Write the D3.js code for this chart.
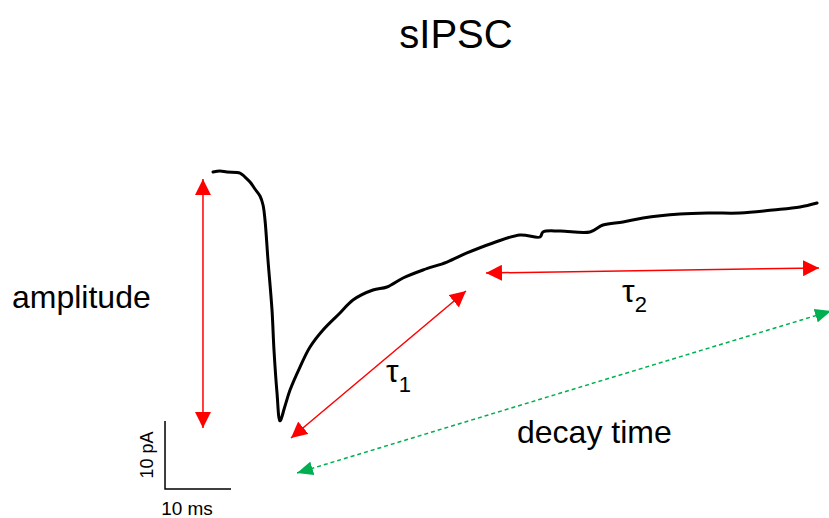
<!DOCTYPE html>
<html>
<head>
<meta charset="utf-8">
<script src="https://cdn.jsdelivr.net/npm/d3@7/dist/d3.min.js"></script>
<style>
  html, body { margin: 0; padding: 0; background: #fff; }
  svg { display: block; font-family: "Liberation Sans", Arial, sans-serif; }
</style>
</head>
<body>
<svg id="chart" width="829" height="518"></svg>
<script>
// Averaged sIPSC trace: time (ms) from onset, current (pA) relative to baseline
const timeMs = [0, 1.06, 2.12, 4.09, 4.85, 5.61, 6.36, 7.12, 7.58, 7.88, 8.33, 8.94, 9.24, 9.70, 10.15,
  10.91, 11.67, 13.18, 14.70, 16.67, 19.24, 21.21, 24.24, 26.36, 28.79, 31.82, 35.45, 38.48, 42.42,
  46.52, 49.55, 50.0, 52.58, 57.12, 59.09, 62.12, 65.15, 70.76, 75.3, 79.85, 84.85, 88.94, 91.52];
const currentPA = [0, 0.15, 0, -0.15, -0.74, -1.47, -2.5, -3.53, -4.85, -7.06, -12.94, -20.29, -26.18, -32.5, -36.6,
  -34.4, -32.06, -28.68, -25.74, -23.24, -20.74, -18.82, -17.35, -16.91, -15.59, -14.41, -13.24, -11.91, -10.44,
  -9.26, -9.56, -8.82, -8.68, -8.82, -7.79, -7.35, -6.76, -6.18, -6.03, -6.03, -5.59, -5.15, -4.56];

// Measurement arrows, endpoints in [ms, pA]
const amplitudeArrow = [[-1.52, -1.03], [-1.52, -37.65]];
const tau1Arrow = [[11.82, -39.12], [38.33, -17.5]];
const tau2Arrow = [[41.36, -14.85], [91.82, -14.12]];
const decayArrow = [[12.73, -44.26], [93.64, -20.44]];

// Scale bar origin [ms, pA] and lengths
const scaleBarOrigin = [-7.27, -46.62];
const scaleBarMs = 10;
const scaleBarPA = 10;

const svg = d3.select("#chart");

const x = d3.scaleLinear().domain([0, 10]).range([213, 279]);
const y = d3.scaleLinear().domain([0, -10]).range([172, 240]);

// Arrowhead markers
const defs = svg.append("defs");
function marker(id, color, len, wid) {
  defs.append("marker")
    .attr("id", id)
    .attr("markerUnits", "userSpaceOnUse")
    .attr("viewBox", `0 0 ${len} ${wid}`)
    .attr("markerWidth", len)
    .attr("markerHeight", wid)
    .attr("refX", len)
    .attr("refY", wid / 2)
    .attr("orient", "auto-start-reverse")
    .append("path")
    .attr("d", `M0,0L${len},${wid / 2}L0,${wid}Z`)
    .attr("fill", color);
}
marker("head-red", "#ff0000", 16, 16);
marker("head-green", "#00b050", 16, 14);

// Title
svg.append("text")
  .attr("x", 456).attr("y", 48)
  .attr("text-anchor", "middle")
  .attr("font-size", 40)
  .text("sIPSC");

// Trace
const line = d3.line()
  .x((d, i) => x(timeMs[i]))
  .y((d, i) => y(currentPA[i]))
  .curve(d3.curveCatmullRom.alpha(0.5));

svg.append("path")
  .datum(currentPA)
  .attr("d", line)
  .attr("fill", "none")
  .attr("stroke", "#000")
  .attr("stroke-width", 3)
  .attr("stroke-linejoin", "round")
  .attr("stroke-linecap", "round");

function arrow(pts, color, headId, dash) {
  svg.append("line")
    .attr("x1", x(pts[0][0])).attr("y1", y(pts[0][1]))
    .attr("x2", x(pts[1][0])).attr("y2", y(pts[1][1]))
    .attr("stroke", color)
    .attr("stroke-width", 1.5)
    .attr("stroke-dasharray", dash || null)
    .attr("marker-start", `url(#${headId})`)
    .attr("marker-end", `url(#${headId})`);
}
arrow(amplitudeArrow, "#ff0000", "head-red");
arrow(tau1Arrow, "#ff0000", "head-red");
arrow(tau2Arrow, "#ff0000", "head-red");
arrow(decayArrow, "#00b050", "head-green", "4,3");

// Labels
svg.append("text").attr("x", 12).attr("y", 308).attr("font-size", 32).text("amplitude");
svg.append("text").attr("x", 517).attr("y", 443).attr("font-size", 32).text("decay time");

function tauLabel(px, py, sub) {
  const t = svg.append("text").attr("x", px).attr("y", py).attr("font-size", 32);
  t.append("tspan").text("τ");
  t.append("tspan").attr("font-size", 22).attr("dy", 10).text(sub);
}
tauLabel(386, 382, "1");
tauLabel(622, 302, "2");

// Scale bar
const sb = svg.append("g");
sb.append("path")
  .attr("d", `M${x(scaleBarOrigin[0])},${y(scaleBarOrigin[1] + scaleBarPA)}` +
             `V${y(scaleBarOrigin[1])}H${x(scaleBarOrigin[0] + scaleBarMs)}`)
  .attr("fill", "none")
  .attr("stroke", "#000")
  .attr("stroke-width", 1.5);
sb.append("text")
  .attr("x", 187).attr("y", 515)
  .attr("text-anchor", "middle").attr("font-size", 19)
  .text(`${scaleBarMs} ms`);
sb.append("text")
  .attr("transform", `translate(153,${y(scaleBarOrigin[1] + scaleBarPA / 2)}) rotate(-90)`)
  .attr("text-anchor", "middle").attr("font-size", 18)
  .text(`${scaleBarPA} pA`);
</script>
</body>
</html>
